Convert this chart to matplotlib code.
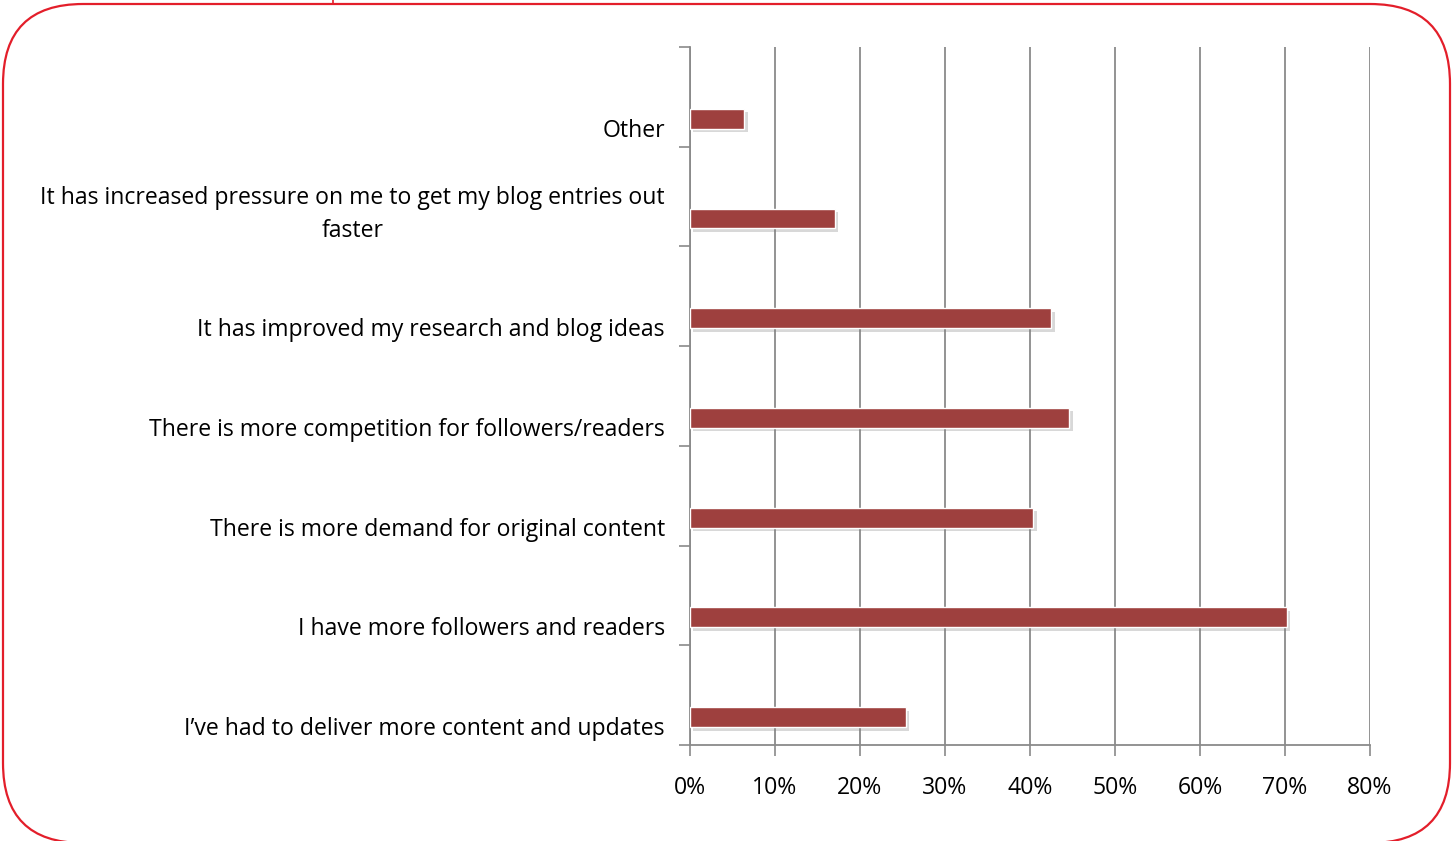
import numpy as np
import matplotlib.pyplot as plt
from matplotlib.patches import FancyBboxPatch
from matplotlib import patheffects as pe

plt.rcParams['font.family'] = ['Open Sans', 'DejaVu Sans']

# bottom to top, as the chart draws them
categories = [
    "I\u2019ve had to deliver more content and updates",
    "I have more followers and readers",
    "There is more demand for original content",
    "There is more competition for followers/readers",
    "It has improved my research and blog ideas",
    "It has increased pressure on me to get my blog entries out\nfaster",
    "Other",
]
shares = [25.4, 70.2, 40.4, 44.6, 42.5, 17.0, 6.4]
xticks = [0, 10, 20, 30, 40, 50, 60, 70, 80]

bar_color = '#9E403E'
grid_color = '#8A8A8A'
border_red = '#E31E2A'
fs = 16.6

fig = plt.figure(figsize=(14.52, 8.41), dpi=100)

# rounded red frame, drawn in pixel space (y measured from the bottom)
frame = fig.add_axes([0, 0, 1, 1])
frame.set_xlim(0, 1452)
frame.set_ylim(0, 841)
frame.axis('off')
frame.add_patch(FancyBboxPatch((3, -2), 1447, 839, boxstyle='round,pad=0,rounding_size=80',
                               fill=False, edgecolor=border_red, linewidth=1.6, clip_on=False))
frame.plot([333, 333], [841, 837], color=border_red, lw=1.2)

ax = fig.add_axes([690 / 1452, 1 - 745 / 841, 680 / 1452, 698 / 841])
n = len(categories)
pos = np.arange(n)
bar_y = pos - 0.22

ax.barh(bar_y, shares, height=0.2, color=bar_color, edgecolor='white', linewidth=1.0,
        zorder=3, path_effects=[pe.SimplePatchShadow(offset=(2.5, -2.5), shadow_rgbFace='#808080', alpha=0.3),
                                pe.Normal()])

ax.set_xlim(0, 80)
ax.set_ylim(-0.5, n - 0.5)
ax.set_xticks(xticks)
ax.set_xticklabels([f'{v}%' for v in xticks], fontsize=fs)
ax.set_yticks(np.arange(n + 1) - 0.5)
ax.set_yticklabels([])
ax.tick_params(axis='x', length=8, width=1.2, color=grid_color, pad=14)
ax.tick_params(axis='y', length=8, width=1.2, color=grid_color)
ax.grid(axis='x', color=grid_color, linewidth=1.3, zorder=0)
for s in ['top', 'right']:
    ax.spines[s].set_visible(False)
for s in ['left', 'bottom']:
    ax.spines[s].set_color(grid_color)
    ax.spines[s].set_linewidth(1.3)

for y, label in zip(pos, categories):
    off = -0.18 if '\n' in label else -0.34
    ax.text(-2.95, y + off, label, ha='right', va='center', multialignment='center',
            fontsize=fs, linespacing=1.45, color='black')

fig.savefig('out.png', dpi=100)
